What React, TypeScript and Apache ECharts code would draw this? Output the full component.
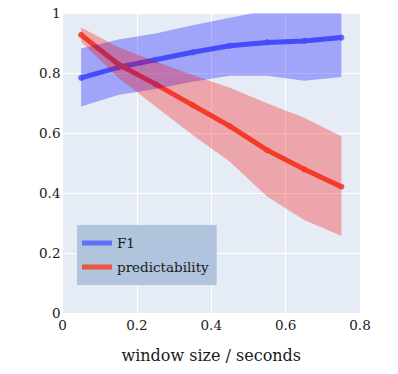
import React, { useEffect, useRef } from "react";
import * as echarts from "echarts";

const windowSizes = [0.05, 0.15, 0.25, 0.35, 0.45, 0.55, 0.65, 0.75];
const f1Mean = [0.785, 0.82, 0.845, 0.87, 0.892, 0.903, 0.908, 0.919];
const f1Upper = [0.883, 0.913, 0.933, 0.96, 0.985, 1.01, 1.03, 1.045];
const f1Lower = [0.689, 0.728, 0.748, 0.772, 0.792, 0.792, 0.775, 0.788];
const predMean = [0.928, 0.83, 0.764, 0.694, 0.624, 0.544, 0.48, 0.422];
const predUpper = [0.953, 0.887, 0.839, 0.794, 0.752, 0.7, 0.652, 0.59];
const predLower = [0.905, 0.785, 0.689, 0.594, 0.505, 0.389, 0.311, 0.258];
const seriesNames = ["F1", "predictability"];
const xTitle = "window size / seconds";

const FONT = "'DejaVu Serif', serif";

export default function App() {
  const ref = useRef<HTMLDivElement>(null);
  useEffect(() => {
    if (!ref.current) return;
    const chart = echarts.init(ref.current, undefined, { renderer: "svg" });
    const pairs = (ys: number[]) => windowSizes.map((x, i) => [x, ys[i]]);
    const lineColors = ["#636EFA", "#EF553B"];
    const bandColors = ["rgba(0,0,255,0.3)", "rgba(255,0,0,0.3)"];
    const meanLine = (name: string, ys: number[], color: string) => ({
      name,
      type: "line",
      z: 2,
      data: pairs(ys),
      symbol: "circle",
      symbolSize: 6,
      showSymbol: true,
      lineStyle: { color, width: 5 },
      itemStyle: { color },
      silent: true,
    });
    const band = (id: string, up: number[], lo: number[], color: string, z: number) => ({
      id,
      type: "custom",
      z,
      silent: true,
      data: windowSizes.map((x, i) => [x, lo[i], up[i]]),
      encode: { x: 0, y: [1, 2] },
      renderItem: (params: any, api: any) => {
        if (params.dataIndex !== 0) return null;
        const top = windowSizes.map((x, i) => api.coord([x, up[i]]));
        const bottom = windowSizes.map((x, i) => api.coord([x, lo[i]])).reverse();
        const cs = params.coordSys;
        return {
          type: "polygon",
          shape: { points: top.concat(bottom) },
          style: { fill: color, stroke: "none" },
          clipPath: {
            type: "rect",
            shape: { x: cs.x, y: cs.y, width: cs.width, height: cs.height },
          },
        };
      },
    });
    chart.setOption({
      animation: false,
      grid: {
        left: 62.5,
        right: 38,
        top: 13.3,
        bottom: 60.7,
        show: true,
        backgroundColor: "#E5ECF6",
        borderWidth: 0,
      },
      xAxis: {
        type: "value",
        min: 0,
        max: 0.8,
        interval: 0.2,
        name: xTitle,
        nameLocation: "middle",
        nameGap: 34,
        nameTextStyle: { fontFamily: FONT, fontSize: 16, color: "#1a1a1a" },
        axisLine: { show: false },
        axisTick: { show: false },
        axisLabel: { fontFamily: FONT, fontSize: 13.5, color: "#1a1a1a", margin: 5 },
        splitLine: { show: true, lineStyle: { color: "#ffffff", width: 1 } },
      },
      yAxis: {
        type: "value",
        min: 0,
        max: 1,
        interval: 0.2,
        axisLine: { show: false },
        axisTick: { show: false },
        axisLabel: { fontFamily: FONT, fontSize: 13.5, color: "#1a1a1a", margin: 2 },
        splitLine: { show: true, lineStyle: { color: "#ffffff", width: 1 } },
      },
      legend: {
        orient: "vertical",
        left: 77,
        top: 225,
        padding: [10, 8, 10, 5],
        itemGap: 8,
        itemWidth: 30,
        itemHeight: 5,
        icon: "rect",
        backgroundColor: "#B0C4DE",
        z: 10,
        textStyle: { fontFamily: FONT, fontSize: 13.5, color: "#1a1a1a", lineHeight: 16 },
        data: seriesNames,
      },
      series: [
        meanLine(seriesNames[0], f1Mean, lineColors[0]),
        meanLine(seriesNames[1], predMean, lineColors[1]),
        band("f1band", f1Upper, f1Lower, bandColors[0], 3),
        band("prband", predUpper, predLower, bandColors[1], 4),
      ],
    });
    return () => chart.dispose();
  }, []);
  return (
    <div
      ref={ref}
      style={{ position: "fixed", left: 0, top: 0, width: 398, height: 374, background: "#fff" }}
    />
  );
}
